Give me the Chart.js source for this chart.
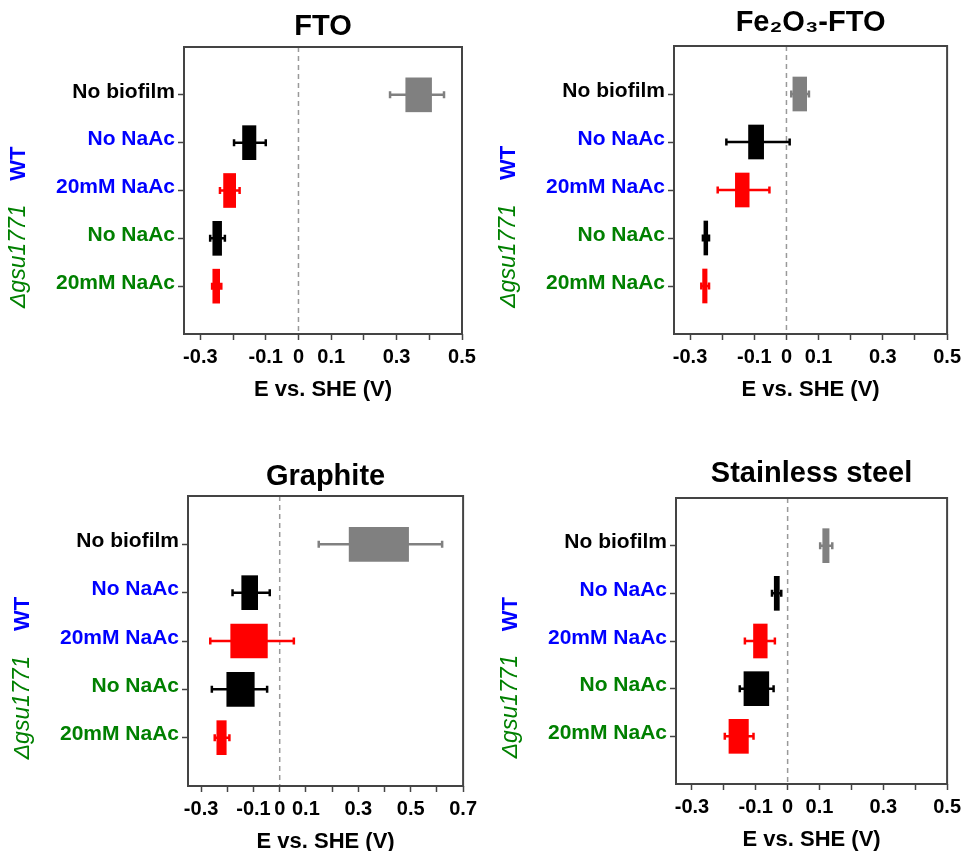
<!DOCTYPE html>
<html>
<head>
<meta charset="utf-8">
<script src="https://cdn.jsdelivr.net/npm/chart.js@4.4.1/dist/chart.umd.min.js"></script>
<style>
  html, body { margin: 0; padding: 0; background: #fff; overflow: hidden; }
  #wrap { position: relative; width: 966px; height: 851px; overflow: hidden; }
  canvas { position: absolute; }
</style>
</head>
<body>
<div id="wrap">
  <canvas id="c_fto" width="482" height="406" style="left:0px;top:0px"></canvas>
  <canvas id="c_fe" width="486" height="406" style="left:480px;top:0px"></canvas>
  <canvas id="c_gr" width="482" height="428" style="left:0px;top:430px"></canvas>
  <canvas id="c_ss" width="486" height="426" style="left:480px;top:430px"></canvas>
</div>
<script>
// categories (top to bottom)
const categories = ['No biofilm', 'No NaAc', '20mM NaAc', 'No NaAc', '20mM NaAc'];
const groups = ['WT', 'Δgsu1771'];

// FTO : box [low, high], error bar [low, high]  (V vs SHE)
const ftoBox = [[0.328, 0.407], [-0.171, -0.130], [-0.229, -0.192], [-0.262, -0.235], [-0.262, -0.241]];
const ftoErr = [[0.280, 0.445], [-0.197, -0.100], [-0.240, -0.180], [-0.270, -0.225], [-0.264, -0.236]];

// Fe2O3-FTO
const feBox = [[0.020, 0.063], [-0.118, -0.071], [-0.159, -0.116], [-0.257, -0.245], [-0.261, -0.247]];
const feErr = [[0.015, 0.070], [-0.187, 0.010], [-0.214, -0.053], [-0.260, -0.241], [-0.265, -0.241]];

// Graphite
const grBox = [[0.265, 0.492], [-0.145, -0.084], [-0.187, -0.047], [-0.202, -0.097], [-0.240, -0.204]];
const grErr = [[0.149, 0.620], [-0.180, -0.038], [-0.265, 0.054], [-0.259, -0.048], [-0.248, -0.192]];

// Stainless steel
const ssBox = [[0.110, 0.130], [-0.042, -0.026], [-0.107, -0.064], [-0.137, -0.059], [-0.184, -0.123]];
const ssErr = [[0.102, 0.140], [-0.049, -0.020], [-0.134, -0.040], [-0.150, -0.044], [-0.197, -0.107]];

// x tick marks and the ones that carry a label
const xTicks = [-0.3, -0.2, -0.1, 0, 0.1, 0.2, 0.3, 0.4, 0.5];
const xTicksGraphite = [-0.3, -0.2, -0.1, 0, 0.1, 0.2, 0.3, 0.4, 0.5, 0.6, 0.7];
const xTickLabels = [-0.3, -0.1, 0, 0.1, 0.3, 0.5];
const xTickLabelsGraphite = [-0.3, -0.1, 0, 0.1, 0.3, 0.5, 0.7];

const FONT = "'Liberation Sans', Arial, 'DejaVu Sans', sans-serif";
const barColors = ['#808080', '#000000', '#ff0000', '#000000', '#ff0000'];
const labelColors = ['#000000', '#0000ff', '#0000ff', '#008000', '#008000'];
const groupColors = ['#0000ff', '#008000'];

const yLabels = [''].concat(categories, ['']);

// frame, zero line, error bars, group labels
const extras = {
  id: 'extras',
  beforeDatasetsDraw(chart) {
    const {ctx, chartArea: a, scales: {x}} = chart;
    const x0 = x.getPixelForValue(0);
    ctx.save();
    ctx.strokeStyle = '#999';
    ctx.lineWidth = 1.5;
    ctx.setLineDash([5, 4]);
    ctx.beginPath();
    ctx.moveTo(x0, a.top);
    ctx.lineTo(x0, a.bottom);
    ctx.stroke();
    ctx.restore();
  },
  afterDatasetsDraw(chart, args, opts) {
    const {ctx, chartArea: a, scales: {x, y}} = chart;
    ctx.save();
    // error bars
    opts.err.forEach((e, i) => {
      const py = y.getPixelForValue(i + 1);
      const x1 = x.getPixelForValue(e[0]);
      const x2 = x.getPixelForValue(e[1]);
      ctx.strokeStyle = barColors[i];
      ctx.lineWidth = 2.5;
      ctx.beginPath();
      ctx.moveTo(x1, py);
      ctx.lineTo(x2, py);
      ctx.moveTo(x1, py - 3.5);
      ctx.lineTo(x1, py + 3.5);
      ctx.moveTo(x2, py - 3.5);
      ctx.lineTo(x2, py + 3.5);
      ctx.stroke();
    });
    // frame
    ctx.strokeStyle = '#444';
    ctx.lineWidth = 2;
    ctx.strokeRect(a.left, a.top, a.right - a.left, a.bottom - a.top);
    // group labels
    const gy = [
      (y.getPixelForValue(2) + y.getPixelForValue(3)) / 2 - 3,
      (y.getPixelForValue(4) + y.getPixelForValue(5)) / 2 - 6
    ];
    const gx = a.left - 165;
    groups.forEach((g, i) => {
      ctx.save();
      ctx.translate(gx, gy[i]);
      ctx.rotate(-Math.PI / 2);
      ctx.textAlign = 'center';
      ctx.textBaseline = 'middle';
      ctx.fillStyle = groupColors[i];
      ctx.font = i === 0 ? 'bold 22px ' + FONT : 'italic 23px ' + FONT;
      ctx.fillText(g, 0, 0);
      ctx.restore();
    });
    ctx.restore();
  }
};

function makePanel(id, title, box, err, xMax, ticks, tickLabels, area) {
  const ctx = document.getElementById(id).getContext('2d');
  const w = ctx.canvas.width;
  return new Chart(ctx, {
    type: 'bar',
    data: {
      labels: yLabels,
      datasets: [{
        data: [null].concat(box, [null]),
        backgroundColor: ['transparent'].concat(barColors, ['transparent']),
        borderWidth: 0,
        barThickness: 34
      }]
    },
    plugins: [extras],
    options: {
      indexAxis: 'y',
      responsive: false,
      animation: false,
      layout: {
        autoPadding: false,
        padding: {left: 0, top: 0, bottom: 0, right: w - area.r}
      },
      plugins: {
        legend: {display: false},
        tooltip: {enabled: false},
        title: {
          display: true,
          text: title,
          fullSize: false,
          color: '#000',
          font: {family: FONT, size: 29, weight: 'bold', lineHeight: 1.2},
          padding: {top: area.tt, bottom: area.t - 34.8 - area.tt}
        },
        extras: {err: err}
      },
      scales: {
        x: {
          type: 'linear',
          min: -0.35,
          max: xMax,
          afterBuildTicks: (s) => { s.ticks = ticks.map(v => ({value: v})); },
          afterFit: (s) => { s.height = 72; },
          ticks: {
            autoSkip: false,
            maxRotation: 0,
            padding: 5,
            color: '#000',
            font: {family: FONT, size: 20, weight: 'bold'},
            callback: (v) => {
              const r = Math.round(v * 10) / 10;
              return tickLabels.includes(r) ? String(r) : '';
            }
          },
          grid: {drawOnChartArea: false, tickLength: 6, tickColor: '#444', tickWidth: 1.5},
          border: {display: false},
          title: {
            display: true,
            text: 'E vs. SHE (V)',
            color: '#000',
            font: {family: FONT, size: 22, weight: 'bold'},
            padding: {top: 0, bottom: 3}
          }
        },
        y: {
          type: 'category',
          offset: false,
          afterFit: (s) => { s.width = area.l; },
          ticks: {
            autoSkip: false,
            padding: 3,
            labelOffset: -3,
            color: (c) => labelColors[c.index - 1] || '#000',
            font: {family: FONT, size: 21, weight: 'bold'}
          },
          grid: {
            offset: false,
            drawOnChartArea: false,
            tickLength: 6,
            tickWidth: 1.5,
            tickColor: (c) => (c.index === 0 || c.index === yLabels.length - 1) ? 'transparent' : '#444'
          },
          border: {display: false}
        }
      }
    }
  });
}

makePanel('c_fto', 'FTO', ftoBox, ftoErr, 0.5, xTicks, xTickLabels, {l: 184, r: 462, t: 47, tt: 9.6});
makePanel('c_fe', 'Fe₂O₃-FTO', feBox, feErr, 0.5, xTicks, xTickLabels, {l: 194, r: 472, t: 46, tt: 5.6});
makePanel('c_gr', 'Graphite', grBox, grErr, 0.7, xTicksGraphite, xTickLabelsGraphite, {l: 188, r: 465, t: 66, tt: 29.6});
makePanel('c_ss', 'Stainless steel', ssBox, ssErr, 0.5, xTicks, xTickLabels, {l: 196, r: 473, t: 68, tt: 26.1});
</script>
</body>
</html>
